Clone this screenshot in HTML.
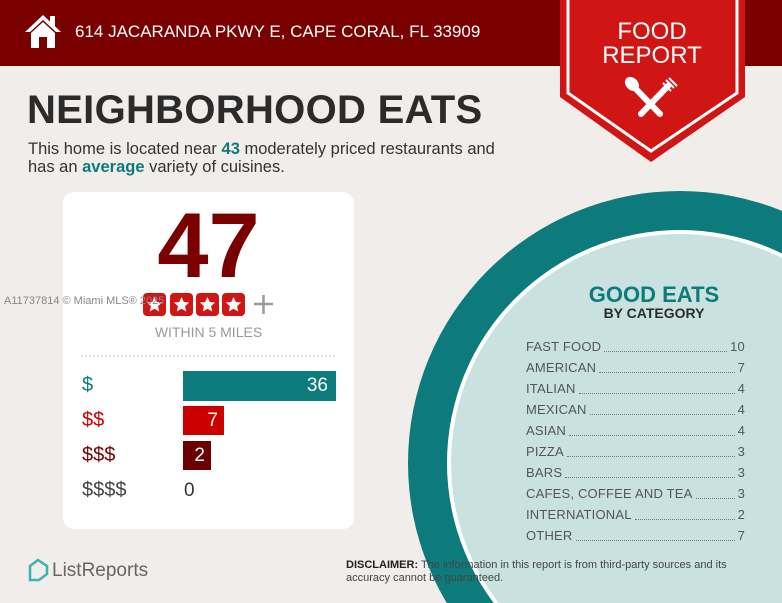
<!DOCTYPE html>
<html style="overflow:hidden"><head><meta charset="utf-8"><style>
html,body{margin:0;width:782px;height:603px;overflow:hidden}
body{background:#f0edea;font-family:"Liberation Sans",sans-serif;position:relative}
.a{position:absolute;white-space:nowrap}
</style></head><body>
<svg class="a" style="left:0;top:0" width="782" height="603">
<defs><polygon id="st" points="0,-8 2.3,-3 7.6,-2.5 3.6,1.1 4.7,6.5 0,3.8 -4.7,6.5 -3.6,1.1 -7.6,-2.5 -2.3,-3" fill="#fff"/></defs>
<rect x="0" y="0" width="782" height="66" fill="#7a0000"/>
<circle cx="680" cy="463" r="272" fill="#0d7b7b"/>
<circle cx="680" cy="463" r="233" fill="#ffffff"/>
<circle cx="680" cy="463" r="229" fill="#c9e2e0"/>
<polygon points="560,0 745,0 745,97 651,162 560,97" fill="#d01515"/>
<polyline points="568,0 568,93 651,151 737,93 737,0" fill="none" stroke="#fff" stroke-width="3"/>
<g stroke="#fff" stroke-width="6" stroke-linecap="round">
<line x1="633" y1="86" x2="660" y2="114"/>
<line x1="668" y1="86" x2="641" y2="114"/>
</g>
<ellipse cx="632" cy="84" rx="6" ry="8" fill="#fff" transform="rotate(-45 632 84)"/>
<g stroke="#fff" stroke-width="2"><line x1="666" y1="80" x2="674" y2="88"/><line x1="669" y1="78" x2="677" y2="86"/><line x1="663" y1="83" x2="671" y2="91"/></g>
<polygon points="25,32 43,15 61,32 56,32 43,20 30,32" fill="#fff"/>
<rect x="50" y="16" width="5" height="10" fill="#fff"/>
<polygon points="31,33 43,22 55,33 55,48 47,48 47,37 39,37 39,48 31,48" fill="#fff"/>
<rect x="63" y="192" width="291" height="337" rx="11" fill="#fff"/>
<line x1="81" y1="356" x2="336" y2="356" stroke="#bbb" stroke-dasharray="2,2"/>
<rect x="183" y="371" width="153" height="30" fill="#0d7b7b"/>
<rect x="183" y="406" width="41" height="29" fill="#cc0000"/>
<rect x="183" y="441" width="28" height="29" fill="#6b0000"/>
<g fill="#d01515"><rect x="143" y="293" width="23" height="23" rx="4"/><rect x="170" y="293" width="23" height="23" rx="4"/><rect x="196" y="293" width="23" height="23" rx="4"/><rect x="222" y="293" width="23" height="23" rx="4"/></g>
<use href="#st" x="154.5" y="305"/><use href="#st" x="181.5" y="305"/><use href="#st" x="207.5" y="305"/><use href="#st" x="233.5" y="305"/>
<g stroke="#999" stroke-width="2.5"><line x1="254" y1="304" x2="273" y2="304"/><line x1="263.5" y1="295" x2="263.5" y2="314"/></g>
<path d="M30 566 l8 -6 l9 6 v8 l-8 6 h-9z" fill="none" stroke="#3bb3b0" stroke-width="2.5"/>
</svg>
<div class="a" style="left:75px;top:22px;color:#fff;font-size:17px">614 JACARANDA PKWY E, CAPE CORAL, FL 33909</div>
<div class="a" style="left:561px;top:20px;width:182px;text-align:center;color:#fff;font-size:24px;line-height:24px">FOOD<br>REPORT</div>
<div class="a" style="left:27px;top:88px;font-size:40px;font-weight:bold;color:#2b2b2b;letter-spacing:0.3px">NEIGHBORHOOD EATS</div>
<div class="a" style="left:28px;top:140px;font-size:16.5px;line-height:18px;color:#333">This home is located near <b style="color:#0d7b7b">43</b> moderately priced restaurants and<br>has an <b style="color:#0d7b7b">average</b> variety of cuisines.</div>
<div class="a" style="left:63px;top:196px;width:291px;text-align:center;font-size:92px;font-weight:bold;color:#7a0000;line-height:100px">47</div>
<div class="a" style="left:4px;top:295px;font-size:11px;color:#888">A11737814 © Miami MLS® 2025</div>
<div class="a" style="left:63px;top:324px;width:291px;text-align:center;font-size:14px;color:#999">WITHIN 5 MILES</div>
<div class="a" style="left:82px;top:374px;font-size:20px;color:#0d7b7b">$</div>
<div class="a" style="left:82px;top:409px;font-size:20px;color:#cc0000">$$</div>
<div class="a" style="left:82px;top:444px;font-size:20px;color:#7a0000">$$$</div>
<div class="a" style="left:82px;top:479px;font-size:20px;color:#444">$$$$</div>
<div class="a" style="left:183px;top:375px;width:145px;text-align:right;font-size:19px;color:#fff">36</div>
<div class="a" style="left:183px;top:410px;width:35px;text-align:right;font-size:19px;color:#fff">7</div>
<div class="a" style="left:183px;top:445px;width:22px;text-align:right;font-size:19px;color:#fff">2</div>
<div class="a" style="left:184px;top:480px;font-size:19px;color:#333">0</div>
<div class="a" style="left:560px;top:282px;width:188px;text-align:center;font-size:22px;font-weight:bold;color:#0d7b7b">GOOD EATS</div>
<div class="a" style="left:560px;top:305px;width:188px;text-align:center;font-size:14px;font-weight:bold;color:#2b2b2b">BY CATEGORY</div>
<div class="a" style="left:526px;top:336px;width:219px;font-size:13px;color:#555;line-height:21px;letter-spacing:0.2px">
<div style="display:flex"><span>FAST FOOD</span><span style="flex:1;border-bottom:1px dotted #777;margin:0 3px 5px"></span><span>10</span></div>
<div style="display:flex"><span>AMERICAN</span><span style="flex:1;border-bottom:1px dotted #777;margin:0 3px 5px"></span><span>7</span></div>
<div style="display:flex"><span>ITALIAN</span><span style="flex:1;border-bottom:1px dotted #777;margin:0 3px 5px"></span><span>4</span></div>
<div style="display:flex"><span>MEXICAN</span><span style="flex:1;border-bottom:1px dotted #777;margin:0 3px 5px"></span><span>4</span></div>
<div style="display:flex"><span>ASIAN</span><span style="flex:1;border-bottom:1px dotted #777;margin:0 3px 5px"></span><span>4</span></div>
<div style="display:flex"><span>PIZZA</span><span style="flex:1;border-bottom:1px dotted #777;margin:0 3px 5px"></span><span>3</span></div>
<div style="display:flex"><span>BARS</span><span style="flex:1;border-bottom:1px dotted #777;margin:0 3px 5px"></span><span>3</span></div>
<div style="display:flex"><span>CAFES, COFFEE AND TEA</span><span style="flex:1;border-bottom:1px dotted #777;margin:0 3px 5px"></span><span>3</span></div>
<div style="display:flex"><span>INTERNATIONAL</span><span style="flex:1;border-bottom:1px dotted #777;margin:0 3px 5px"></span><span>2</span></div>
<div style="display:flex"><span>OTHER</span><span style="flex:1;border-bottom:1px dotted #777;margin:0 3px 5px"></span><span>7</span></div>
</div>
<div class="a" style="left:52px;top:560px;font-size:19px;color:#666">ListReports</div>
<div class="a" style="left:346px;top:559px;font-size:11px;line-height:13px;color:#444"><b style="color:#222">DISCLAIMER:</b> The information in this report is from third-party sources and its<br>accuracy cannot be guaranteed.</div>
</body></html>
